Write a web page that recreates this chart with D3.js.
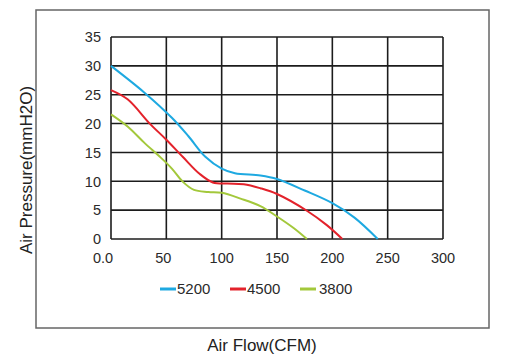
<!DOCTYPE html>
<html><head><meta charset="utf-8">
<script src="https://cdn.jsdelivr.net/npm/d3@7"></script>
<style>
body{margin:0;background:#fff;}
text{font-family:"Liberation Sans",Arial,sans-serif;}
</style></head>
<body><svg id="c" width="506" height="361"></svg>
<script>
const xTicks = [0, 50, 100, 150, 200, 250, 300];
const xTickLabels = ["0.0", "50", "100", "150", "200", "250", "300"];
const yTicks = [0, 5, 10, 15, 20, 25, 30, 35];
const seriesNames = ["5200", "4500", "3800"];
const seriesColors = ["#1ea9e1", "#e3222b", "#a3c83b"];
const s5200 = [[0,30],[30,25.4],[55,21],[70,17.8],[85,14.3],[100,12.2],[112,11.4],[135,11.0],[150,10.4],[175,8.4],[200,6.2],[220,3.7],[241,0]];
const s4500 = [[0,25.8],[15,24.2],[35,20],[50,17.2],[65,14.2],[80,11.3],[92,9.8],[105,9.6],[120,9.5],[135,8.8],[150,7.8],[177,4.9],[195,2.4],[209,0]];
const s3800 = [[0,21.6],[15,19.5],[30,16.7],[45,14.1],[55,12.2],[65,9.9],[75,8.5],[88,8.15],[100,8.0],[117,7.0],[135,5.7],[150,3.9],[165,1.9],[177,0]];
const seriesData = [s5200, s4500, s3800];

const svg = d3.select("#c");
const L = 111, R = 443, T = 37, B = 239;
const x = d3.scaleLinear().domain([0, 300]).range([L, R]);
const y = d3.scaleLinear().domain([0, 35]).range([B, T]);

// outer frame
svg.append("rect").attr("x", 36).attr("y", 10).attr("width", 453).attr("height", 318)
  .attr("fill", "none").attr("stroke", "#666").attr("stroke-width", 1.5);

// grid
const g = svg.append("g");
g.selectAll(".vx").data(xTicks).join("line")
  .attr("x1", d => x(d)).attr("x2", d => x(d)).attr("y1", T).attr("y2", B)
  .attr("stroke", "#1c1c1c").attr("stroke-width", 1.6);
g.selectAll(".hy").data(yTicks).join("line")
  .attr("y1", d => y(d)).attr("y2", d => y(d)).attr("x1", L).attr("x2", R)
  .attr("stroke", "#1c1c1c").attr("stroke-width", 1.6);

// tick labels
svg.selectAll(".yl").data(yTicks).join("text")
  .attr("x", L - 10).attr("y", d => y(d)).attr("dy", "0.36em")
  .attr("text-anchor", "end").attr("font-size", 14.5).attr("fill", "#2a2a2a")
  .text(d => d);
svg.selectAll(".xl").data(xTicks).join("text")
  .attr("x", (d, i) => x(d) - (i === 0 ? 8 : i === 1 ? 3 : 0)).attr("y", 263)
  .attr("text-anchor", "middle").attr("font-size", 14.5).attr("fill", "#2a2a2a")
  .text((d, i) => xTickLabels[i]);

// curves
const line = d3.line().x(d => x(d[0])).y(d => y(d[1])).curve(d3.curveCatmullRom.alpha(0.5));
svg.selectAll(".curve").data(seriesData).join("path")
  .attr("d", line).attr("fill", "none")
  .attr("stroke", (d, i) => seriesColors[i]).attr("stroke-width", 2);

// legend
const legX = [160, 230, 300];
const lg = svg.selectAll(".leg").data(seriesNames).join("g")
  .attr("transform", (d, i) => `translate(${legX[i]},289)`);
lg.append("line").attr("x1", 0).attr("x2", 16).attr("y1", 0).attr("y2", 0)
  .attr("stroke", (d, i) => seriesColors[i]).attr("stroke-width", 3);
lg.append("text").attr("x", (d, i) => i === 2 ? 19 : 17).attr("y", 4.5)
  .attr("font-size", 15).attr("fill", "#2a2a2a").text(d => d);

// axis titles
svg.append("text").attr("x", 262).attr("y", 351).attr("text-anchor", "middle")
  .attr("font-size", 17).attr("fill", "#222").text("Air Flow(CFM)");
svg.append("text").attr("transform", "translate(32,170) rotate(-90)")
  .attr("text-anchor", "middle").attr("font-size", 17).attr("fill", "#222")
  .text("Air Pressure(mmH2O)");
</script></body></html>
